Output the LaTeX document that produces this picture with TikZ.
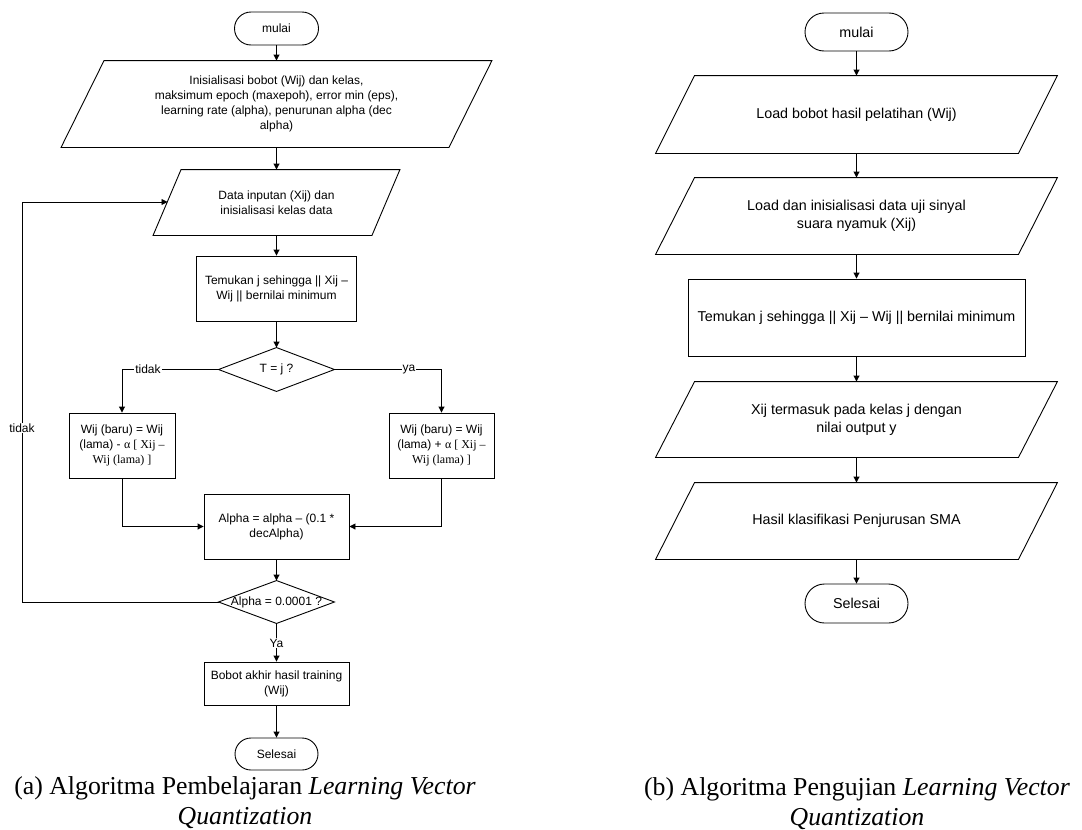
\documentclass[tikz,border=0pt]{standalone}
\usepackage{fontspec}
\setmainfont{Liberation Serif}
\newfontfamily\flowfont{Liberation Sans}
\usetikzlibrary{arrows.meta,calc}
\newcommand\fsA{\flowfont\fontsize{12}{15}\selectfont}
\newcommand\fsB{\flowfont\fontsize{14.3}{18}\selectfont}
\newcommand\fsC{\fontsize{25.8}{30}\selectfont}
\newcommand\drawpara[2]{\draw ($(#1.north west)+(#2,0)$) -- (#1.north east) -- ($(#1.south east)-(#2,0)$) -- (#1.south west) -- cycle;}
\newcommand\drawdiam[1]{\draw (#1.north) -- (#1.east) -- (#1.south) -- (#1.west) -- cycle;}
\begin{document}
\begin{tikzpicture}[x=1pt,y=-1pt, line width=0.9pt,
  >={Triangle[length=6pt,width=6pt]},
  box/.style={draw, rectangle, inner sep=0pt, align=center},
  plain/.style={rectangle, inner sep=0pt, align=center},
  term/.style={draw, rectangle, rounded corners=#1, inner sep=0pt, align=center},
  term/.default=16pt,
  lbl/.style={fill=white, inner sep=1pt, font=\fsA}]
\useasboundingbox (0,0) rectangle (1082,830);

% ---------- (a) ----------
\node[term=16.5pt, minimum width=84pt, minimum height=33pt, font=\fsA] (m1) at (276.5,28.5) {mulai};
\node[plain, minimum width=430pt, minimum height=86pt, font=\fsA] (p1) at (276.5,104) {Inisialisasi bobot (Wij) dan kelas,\\ maksimum epoch (maxepoh), error min (eps),\\ learning rate (alpha), penurunan alpha (dec\\ alpha)};
\drawpara{p1}{43}
\node[plain, minimum width=246pt, minimum height=65pt, font=\fsA] (p2) at (276.5,202.5) {Data inputan (Xij) dan\\ inisialisasi kelas data};
\drawpara{p2}{28}
\node[box, minimum width=160pt, minimum height=65pt, font=\fsA] (r1) at (276.5,288.5) {Temukan j sehingga || Xij –\\ Wij || bernilai minimum};
\node[plain, minimum width=115pt, minimum height=43pt, font=\fsA] (d1) at (276.5,369.5) {T = j ?};
\drawdiam{d1}
\node[box, minimum width=106pt, minimum height=65pt, font=\fsA] (rL) at (122,445.5) {Wij (baru) = Wij\\ (lama) - {\rmfamily α [ Xij –}\\ {\rmfamily Wij (lama) ]}};
\node[box, minimum width=105pt, minimum height=65pt, font=\fsA] (rR) at (441.5,445.5) {Wij (baru) = Wij\\ (lama) + {\rmfamily α [ Xij –}\\ {\rmfamily Wij (lama) ]}};
\node[box, minimum width=145pt, minimum height=65pt, font=\fsA] (r2) at (276.5,526.5) {Alpha = alpha – (0.1 *\\ decAlpha)};
\node[plain, minimum width=115pt, minimum height=42pt, font=\fsA] (d2) at (276.5,602) {Alpha = 0.0001 ?};
\drawdiam{d2}
\node[box, minimum width=145pt, minimum height=43pt, font=\fsA] (r3) at (276.5,683.5) {Bobot akhir hasil training\\ (Wij)};
\node[term=16pt, minimum width=83pt, minimum height=32pt, font=\fsA] (e1) at (276.5,754) {Selesai};

\draw[->] (m1.south) -- (p1.north);
\draw[->] (p1.south) -- (p2.north);
\draw[->] (p2.south) -- (r1.north);
\draw[->] (r1.south) -- (d1.north);
\draw[->] (d1.west) -| (rL.north);
\draw[->] (d1.east) -| (rR.north);
\draw[->] (rL.south) |- (r2.west);
\draw[->] (rR.south) |- (r2.east);
\draw[->] (r2.south) -- (d2.north);
\draw[->] (d2.south) -- (r3.north);
\draw[->] (r3.south) -- (e1.north);
\coordinate (p2in) at (167.5,202);
\coordinate (lp) at (22,602);
\draw[->] (d2.west) -- (lp) |- (p2in);

\node[lbl] (ltidak) at (148,369.5) {tidak};
\node[lbl] (lya) at (409,369.5) {ya};
\node[lbl] (lYa) at (276.5,643) {Ya};
\node[lbl] (ltidak2) at (22,428) {tidak};

\node[align=center, font=\fsC] (capa) at (245,803) {(a) Algoritma Pembelajaran \textit{Learning Vector}\\ \textit{Quantization}};

% ---------- (b) ----------
\node[term=19pt, minimum width=103pt, minimum height=38pt, font=\fsB] (m2) at (856.5,32) {mulai};
\node[plain, minimum width=401pt, minimum height=77pt, font=\fsB] (q1) at (856.5,114.5) {Load bobot hasil pelatihan (Wij)};
\drawpara{q1}{39}
\node[plain, minimum width=401pt, minimum height=76pt, font=\fsB] (q2) at (856.5,216) {Load dan inisialisasi data uji sinyal\\ suara nyamuk (Xij)};
\drawpara{q2}{39}
\node[box, minimum width=337pt, minimum height=77pt, font=\fsB] (r4) at (856.5,317.5) {Temukan j sehingga || Xij – Wij || bernilai minimum};
\node[plain, minimum width=401pt, minimum height=75pt, font=\fsB] (q3) at (856.5,419.5) {Xij termasuk pada kelas j dengan\\ nilai output y};
\drawpara{q3}{39}
\node[plain, minimum width=401pt, minimum height=76pt, font=\fsB] (q4) at (856.5,521) {Hasil klasifikasi Penjurusan SMA};
\drawpara{q4}{39}
\node[term=19.5pt, minimum width=103pt, minimum height=39pt, font=\fsB] (e2) at (856.5,603.5) {Selesai};

\draw[->] (m2.south) -- (q1.north);
\draw[->] (q1.south) -- (q2.north);
\draw[->] (q2.south) -- (r4.north);
\draw[->] (r4.south) -- (q3.north);
\draw[->] (q3.south) -- (q4.north);
\draw[->] (q4.south) -- (e2.north);

\node[align=center, font=\fsC] (capb) at (857,804) {(b) Algoritma Pengujian \textit{Learning Vector}\\ \textit{Quantization}};
\end{tikzpicture}
\end{document}
